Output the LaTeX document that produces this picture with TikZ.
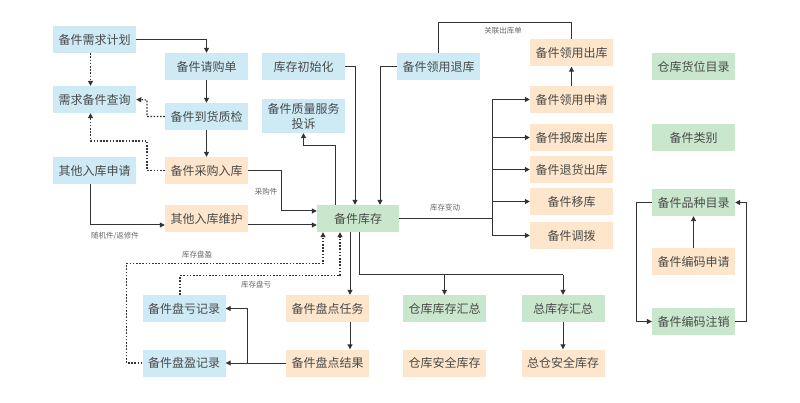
\documentclass[tikz,border=0pt]{standalone}
\usepackage{fontspec}
\setmainfont{Noto Sans CJK SC}
\usetikzlibrary{arrows.meta,calc}
\definecolor{cblue}{HTML}{CDEAF5}
\definecolor{corange}{HTML}{FDE6CB}
\definecolor{cgreen}{HTML}{C9E7CC}
\definecolor{txt}{HTML}{4A4A4A}
\definecolor{lnc}{HTML}{333333}
\definecolor{lblc}{HTML}{666666}
\begin{document}
\begin{tikzpicture}[x=1pt,y=-1pt,
  box/.style={minimum width=83pt,minimum height=27pt,inner sep=0pt,text=txt,font=\fontsize{12}{15}\selectfont,align=center},
  bbox/.style={box,fill=cblue},
  obox/.style={box,fill=corange},
  gbox/.style={box,fill=cgreen},
  conn/.style={draw=lnc,line width=1pt,-{Triangle[length=5pt,width=5pt]}},
  plainline/.style={draw=lnc,line width=1pt},
  dconn/.style={draw=lnc,line width=1.1pt,dash pattern=on 1.6pt off 1.6pt,-{Triangle[length=5pt,width=5pt]}},
  lbl/.style={text=lblc,font=\fontsize{7.5}{8}\selectfont,inner sep=0pt}]
\useasboundingbox[fill=white] (0,0) rectangle (800,403);

% nodes
\node[bbox] (req) at (94.5,39.5) {备件需求计划};
\node[bbox] (query) at (94.5,99.5) {需求备件查询};
\node[bbox] (other) at (94.5,170.5) {其他入库申请};
\node[bbox] (buy) at (206.5,66.5) {备件请购单};
\node[bbox] (qc) at (206.5,116.5) {备件到货质检};
\node[obox] (pin) at (206.5,170.5) {备件采购入库};
\node[obox] (oin) at (206.5,218.5) {其他入库维护};
\node[bbox] (init) at (303.5,66.5) {库存初始化};
\node[bbox,minimum height=34pt] (cmp) at (303.5,116) {备件质量服务\\投诉};
\node[bbox] (ret) at (438.5,66.5) {备件领用退库};
\node[gbox,minimum width=82pt] (stock) at (358,218.5) {备件库存};
\node[obox] (out1) at (571.5,53) {备件领用出库};
\node[obox] (app) at (571.5,99.5) {备件领用申请};
\node[obox] (scrap) at (571.5,137.5) {备件报废出库};
\node[obox] (rtn) at (571.5,169.5) {备件退货出库};
\node[obox] (mv) at (571.5,201.5) {备件移库};
\node[obox] (tr) at (571.5,235.5) {备件调拨};
\node[gbox] (loc) at (693.5,66.5) {仓库货位目录};
\node[gbox] (cat) at (693.5,137.5) {备件类别};
\node[gbox] (var) at (693.5,202.5) {备件品种目录};
\node[obox] (capp) at (693.5,262) {备件编码申请};
\node[gbox] (ccan) at (693.5,321.5) {备件编码注销};
\node[bbox] (loss) at (184,308.5) {备件盘亏记录};
\node[bbox] (gain) at (184,363) {备件盘盈记录};
\node[obox] (task) at (327.5,308.5) {备件盘点任务};
\node[obox] (res) at (327.5,363) {备件盘点结果};
\node[gbox] (wsum) at (444.5,308.5) {仓库库存汇总};
\node[gbox] (tsum) at (563,308.5) {总库存汇总};
\node[obox] (wsafe) at (444.5,363) {仓库安全库存};
\node[obox] (tsafe) at (563,363) {总仓安全库存};

% helper coordinates
\coordinate (y225) at (0,225);
\coordinate (k1) at (281,211);
\coordinate (c1) at (147,141);
\coordinate (c2) at (147,100);
\coordinate (k3) at (303.5,146);
\coordinate (y23) at (0,23);
\coordinate (br) at (492,218.5);
\coordinate (t1) at (350,0);
\coordinate (h) at (359,275);
\coordinate (pk) at (340,275.7);
\coordinate (py) at (323,263.3);
\coordinate (bx) at (247,0);

% left part
\draw[conn] (req.east) -| (buy.north);
\draw[conn] (buy) -- (qc);
\draw[conn] (qc) -- (pin);
\draw[dconn] ([xshift=-4pt]req.south) -- ([xshift=-4pt]query.north);
\draw[dconn] (qc.west) -| (c2) -- (query.east);
\draw[dconn] (pin.west) -| (c1) -| ([xshift=-4pt]query.south);
\draw[conn] (pin.east) -| (k1) -- (k1 -| stock.west);
\draw[conn] (oin.east |- y225) -- (stock.west |- y225);
\draw[conn] ([xshift=-4.5pt]other.south) |- (oin.west |- y225);
\node[lbl] (l1) at (115,236) {随机件/返修件};
\node[lbl] (l2) at (266,192) {采购件};

% top middle
\draw[conn] (init.east) -| ([xshift=-3pt]stock.north);
\draw[conn] (ret.west) -| ([xshift=22pt]stock.north);
\draw[conn] ([xshift=-23pt]stock.north) |- (k3) -- (cmp.south);
\draw[plainline] (ret.north) -- (ret.north |- y23) -| (out1.north);
\node[lbl] (l3) at (503,31) {关联出库单};
\draw[conn] (app.north) -- (out1.south);

% outgoing branches
\draw[plainline] (stock.east) -- (br);
\draw[plainline] (br |- app.west) -- (br |- tr.west);
\draw[conn] (br |- app.west) -- (app.west);
\draw[conn] (br |- scrap.west) -- (scrap.west);
\draw[conn] (br |- rtn.west) -- (rtn.west);
\draw[conn] (br |- mv.west) -- (mv.west);
\draw[conn] (br |- tr.west) -- (tr.west);
\node[lbl] (l4) at (445,208) {库存变动};

% inventory check
\draw[conn] (t1 |- stock.south) -- (t1 |- task.north);
\draw[conn] (t1 |- task.south) -- (t1 |- res.north);
\draw[conn] (res.west) -- (gain.east);
\draw[conn] (bx |- res.west) |- (loss.east);
\draw[dconn] ([xshift=-4pt]loss.north) |- (pk) -- (pk |- stock.south);
\draw[dconn] (gain.west) -- ++(-15.7,0) |- (py) -- (py |- stock.south);
\node[lbl] (l5) at (256,285) {库存盘亏};
\node[lbl] (l6) at (197,255) {库存盘盈};

% summaries
\draw[plainline] (h |- stock.south) -- (h) -- (h -| tsum.north);
\draw[conn] (h -| wsum.north) -- (wsum.north);
\draw[conn] (h -| tsum.north) -- (tsum.north);
\draw[conn] (tsum.south) -- (tsafe.north);

% right part
\draw[conn] (capp.north) -- (var.south);
\draw[conn] (var.west) -- ++(-15,0) |- (ccan.west);
\draw[conn] (ccan.east) -- ++(11,0) |- (var.east);
\end{tikzpicture}
\end{document}
